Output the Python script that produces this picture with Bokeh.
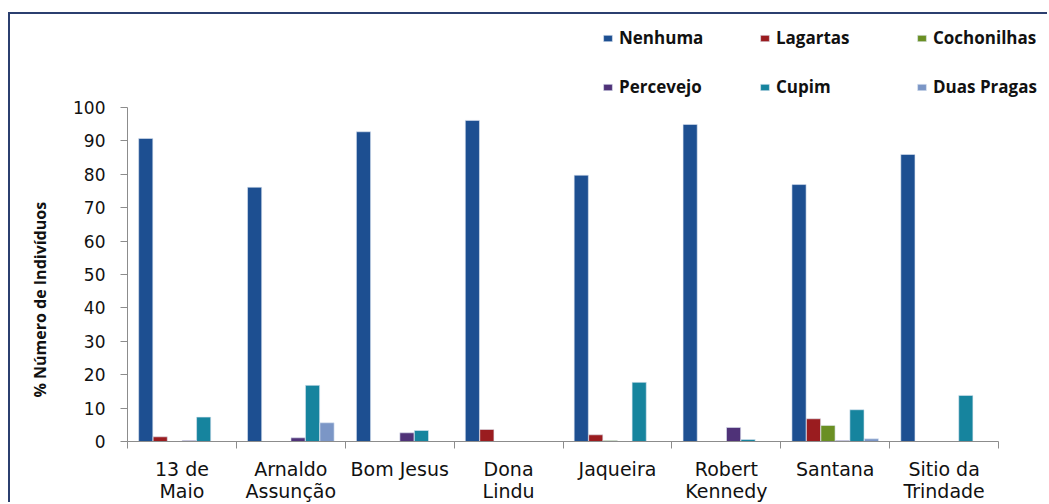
from bokeh.plotting import figure
from bokeh.models import Range1d, Legend, LegendItem, FixedTicker, Title
from bokeh.transform import dodge
from bokeh.embed import file_html
from bokeh.resources import INLINE

# Bairros (x categories) and their two-line axis labels
bairros = ["13 de Maio", "Arnaldo Assunção", "Bom Jesus", "Dona Lindu",
           "Jaqueira", "Robert Kennedy", "Santana", "Sitio da Trindade"]
bairro_labels = ["13 de\nMaio", "Arnaldo\nAssunção", "Bom Jesus", "Dona\nLindu",
                 "Jaqueira", "Robert\nKennedy", "Santana", "Sitio da\nTrindade"]

# % of individuals per pest type
nenhuma = [90.7, 76.1, 92.7, 96.1, 79.7, 94.9, 76.9, 85.9]
lagartas = [1.4, 0.0, 0.0, 3.6, 2.0, 0.0, 6.8, 0.0]
cochonilhas = [0.0, 0.0, 0.0, 0.0, 0.3, 0.0, 4.8, 0.0]
percevejo = [0.3, 1.1, 2.6, 0.0, 0.0, 4.2, 0.3, 0.0]
cupim = [7.3, 16.8, 3.3, 0.0, 17.7, 0.6, 9.5, 13.8]
duas_pragas = [0.0, 5.6, 0.0, 0.0, 0.0, 0.0, 0.8, 0.0]

series_names = ["Nenhuma", "Lagartas", "Cochonilhas", "Percevejo", "Cupim", "Duas Pragas"]
series_values = [nenhuma, lagartas, cochonilhas, percevejo, cupim, duas_pragas]
colors = ["#1d4f91", "#9a1c1f", "#6a8f23", "#4f3278", "#16849e", "#7b96c6"]

y_ticks = [0, 10, 20, 30, 40, 50, 60, 70, 80, 90, 100]

n = len(bairros)
centers = [i + 0.5 for i in range(n)]
bounds = [i for i in range(n + 1)]

# the frame reaches the top and right edges so the legend can sit above the 100 line;
# the axis lines are bounded to the data extent
p = figure(width=1039, height=490, output_backend="svg", toolbar_location=None,
           x_range=Range1d(0, n * 1.0585), y_range=Range1d(0, 127.8),
           min_border_left=116, min_border_right=0, min_border_top=0,
           min_border_bottom=0, margin=(12, 0, 0, 8),
           styles={"border-left": "2px solid #2b3f6f", "border-top": "2px solid #2b3f6f"})
p.outline_line_color = None
p.xgrid.visible = False
p.ygrid.visible = False

bar_step = 0.133
renderers = {}
for k, (name, vals, col) in enumerate(zip(series_names, series_values, colors)):
    data = {"x": centers, "top": vals}
    renderers[name] = p.vbar(x=dodge("x", (k - 2.5) * bar_step), top="top", width=0.13,
                             source=data, fill_color=col, line_color="#dde6f2",
                             line_width=0.6)

# x axis: labels at bairro centres, tick marks on the boundaries between bairros
xa = p.xaxis[0]
xa.ticker = FixedTicker(ticks=centers, minor_ticks=bounds)
xa.bounds = (0, n)
xa.major_label_overrides = {c: lab for c, lab in zip(centers, bairro_labels)}
xa.major_tick_out = 0
xa.major_tick_in = 0
xa.minor_tick_out = 7
xa.minor_tick_in = 0
xa.minor_tick_line_color = "#8c8c8c"
xa.axis_line_color = "#8c8c8c"
xa.major_label_text_font = "DejaVu Sans"
xa.major_label_text_font_size = "19px"
xa.major_label_text_line_height = 1.0
xa.major_label_text_color = "#111111"
xa.major_label_standoff = 9

ya = p.yaxis[0]
ya.ticker = FixedTicker(ticks=y_ticks)
ya.bounds = (0, 100)
ya.major_tick_out = 7
ya.major_tick_in = 0
ya.minor_tick_out = 0
ya.minor_tick_in = 0
ya.major_tick_line_color = "#8c8c8c"
ya.axis_line_color = "#8c8c8c"
ya.major_label_text_font = "DejaVu Sans"
ya.major_label_text_font_size = "17px"
ya.major_label_text_color = "#111111"
ya.major_label_standoff = 15

# y axis title, placed from the bottom of the frame, near the outer edge
ytitle = Title(text="% Número de Indivíduos", align="left", vertical_align="top",
               offset=44, standoff=36,
               text_font="Open Sans", text_font_style="bold", text_font_size="16px",
               text_color="#111111")
p.add_layout(ytitle, "left")

# legend grid is filled column by column: order items so rows read left to right
grid_order = ["Nenhuma", "Percevejo", "Lagartas", "Cupim", "Cochonilhas", "Duas Pragas"]
items = [LegendItem(label=name, renderers=[renderers[name]]) for name in grid_order]
legend = Legend(items=items, ncols=3, location=(475, 343),
                glyph_width=11, glyph_height=8, label_standoff=6,
                label_width=114, label_height=20, spacing=26,
                padding=0, margin=0, border_line_alpha=0, background_fill_alpha=0,
                label_text_font="Open Sans", label_text_font_style="bold",
                label_text_font_size="17px", label_text_color="#111111")
p.add_layout(legend, "center")

open("out.html", "w").write(file_html(p, INLINE))
